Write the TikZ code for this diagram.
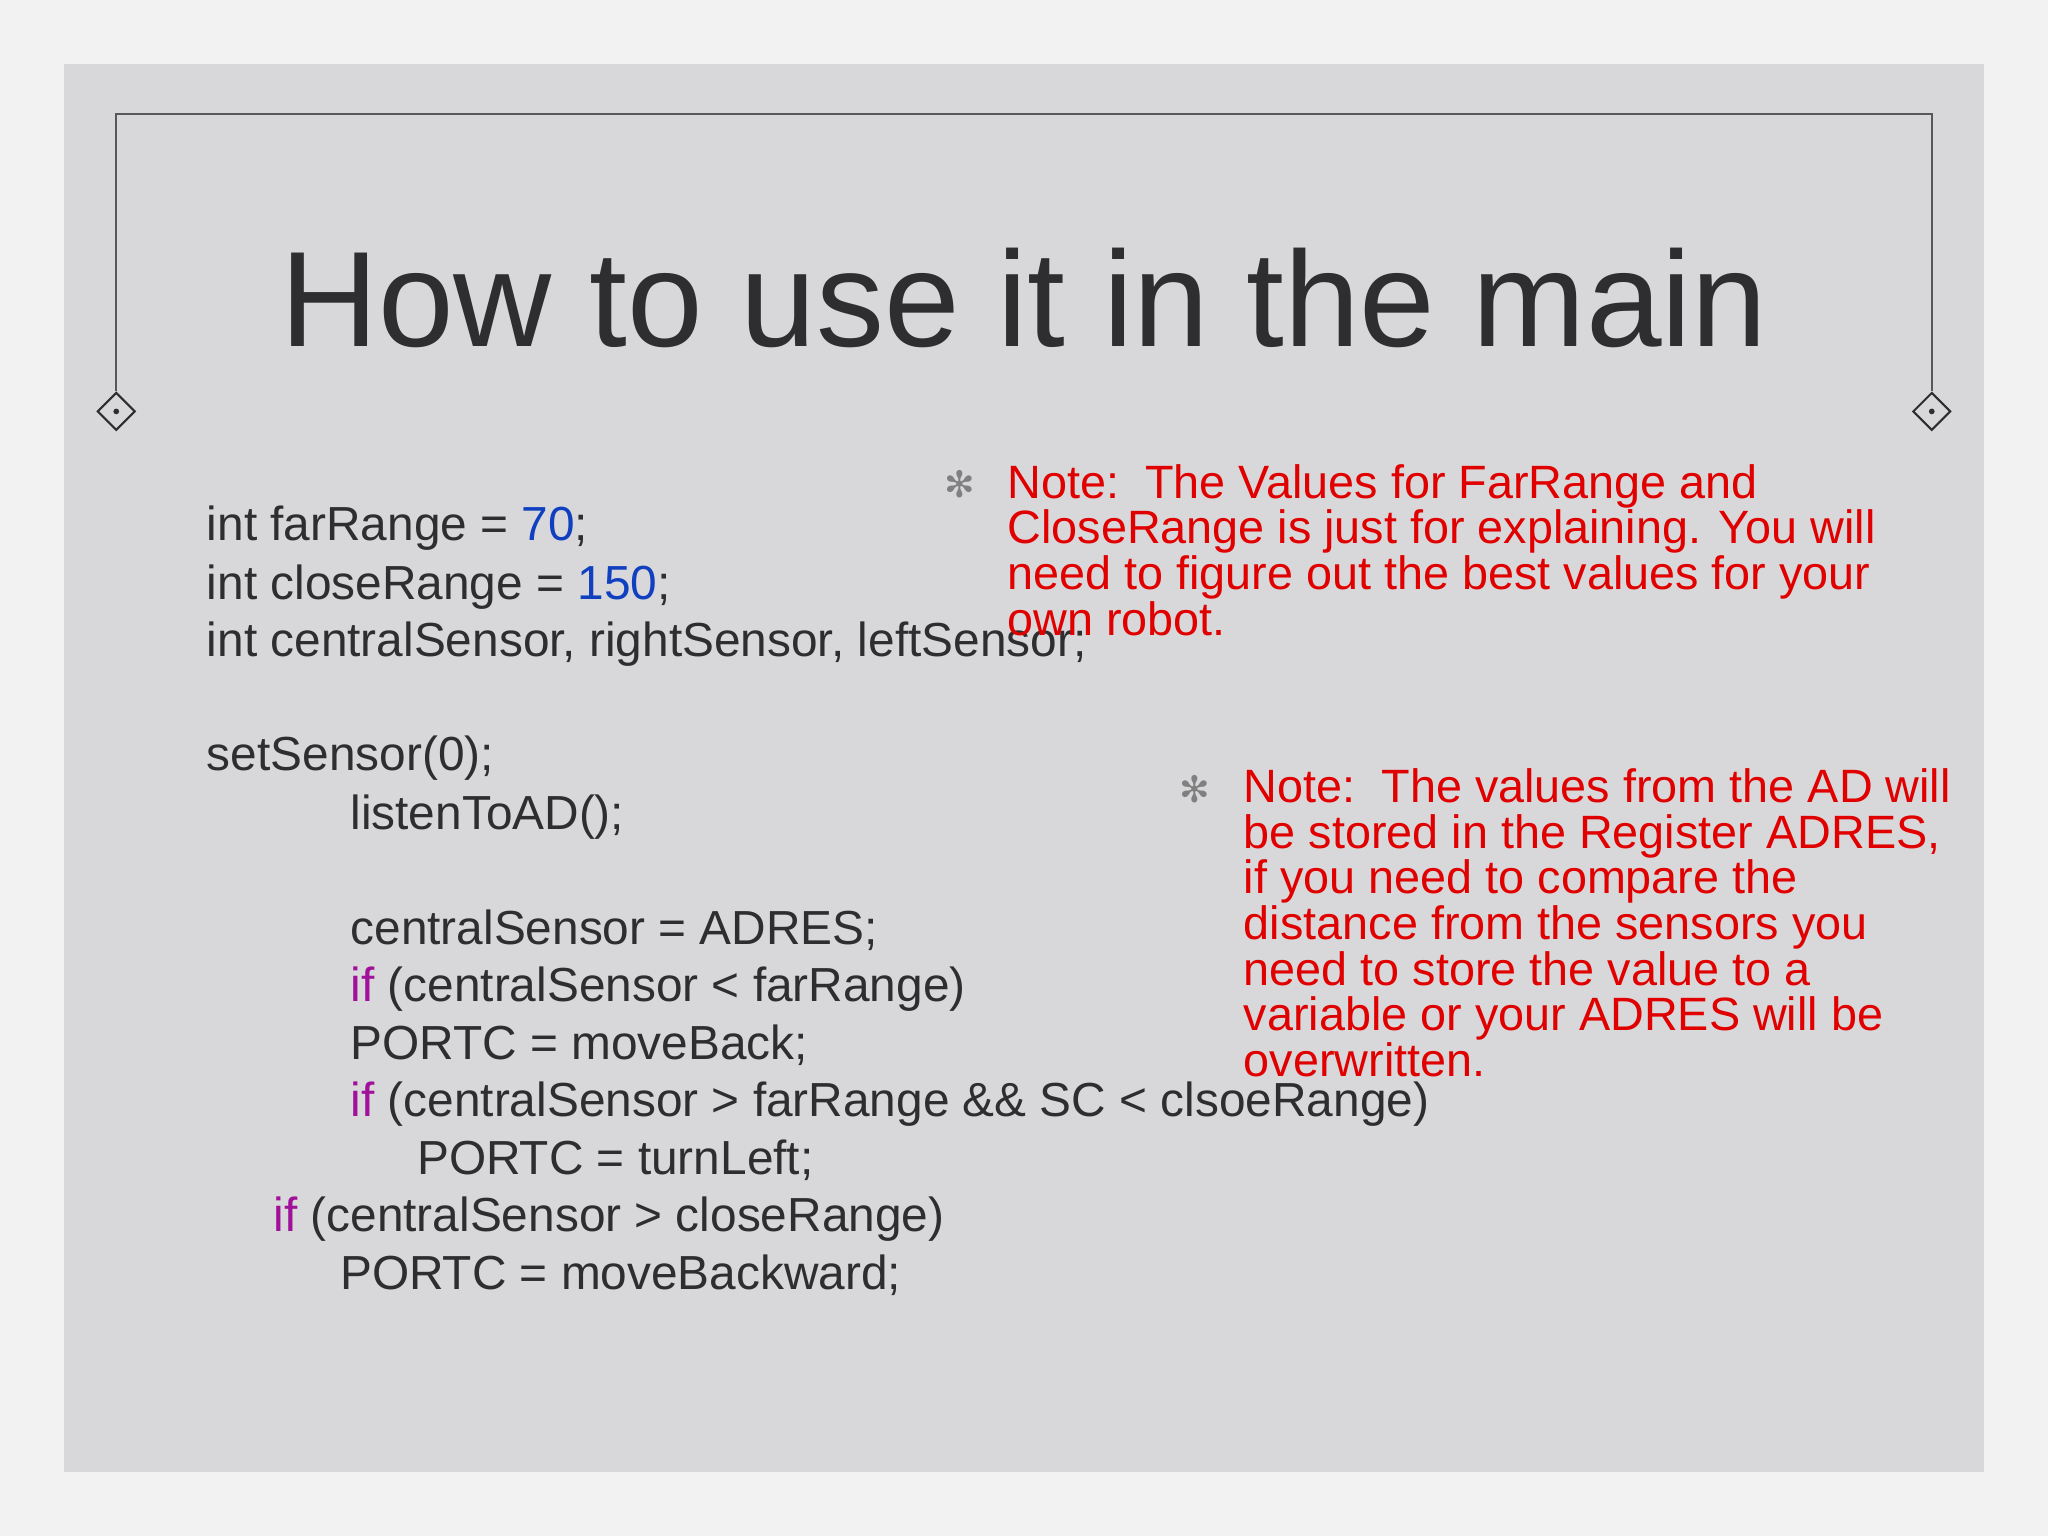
\documentclass[tikz,border=0pt]{standalone}
\usepackage{fontspec}
\setmainfont{Liberation Sans}
\newfontfamily\symfont{DejaVu Sans}
\definecolor{bgout}{HTML}{F2F2F3}
\definecolor{panel}{HTML}{D8D8DA}
\definecolor{txt}{HTML}{2E2E30}
\definecolor{nred}{HTML}{E00000}
\definecolor{nblue}{HTML}{1040C0}
\definecolor{kw}{HTML}{A0109A}
\begin{document}
\begin{tikzpicture}[x=0.5pt,y=-0.5pt,
  code/.style={anchor=base west,inner sep=0,font=\fontsize{18.3}{22}\selectfont,text=txt},
  note/.style={anchor=north west,inner sep=0,font=\fontsize{17.9}{17.5}\selectfont,text=nred,align=left},
  star/.style={inner sep=0,font=\symfont\fontsize{14}{14}\selectfont,text=gray},
  dia/.style={draw=txt,fill=panel,minimum size=10pt,inner sep=0,rotate=45,line width=0.8pt}]
\fill[bgout] (0,0) rectangle (1568,1176);
\useasboundingbox (0,0) rectangle (1568,1176);
\fill[panel] (49,49) rectangle (1519,1127);
\node[dia] (d1) at (89,315) {};
\node[dia] (d2) at (1479,315) {};
\fill[txt] (89,315) circle (2.2);
\fill[txt] (1479,315) circle (2.2);
\draw[txt!80,line width=0.7pt] (d1.north east) -- (89,87) -- (1479,87) -- (d2.north east);
\node[anchor=base,inner sep=0,font=\fontsize{52}{52}\selectfont,text=txt] (title) at (784,265) {How to use it in the main};
\node[code] (l1) at (158,414) {int farRange = \textcolor{nblue}{70};};
\node[code] (l2) at (158,459) {int closeRange = \textcolor{nblue}{150};};
\node[code] (l3) at (158,503) {int centralSensor, rightSensor, leftSensor;};
\node[code] (l4) at (158,590) {setSensor(0);};
\node[code] (l5) at (268,635) {listenToAD();};
\node[code] (l6) at (268,723) {centralSensor = ADRES;};
\node[code] (l7) at (268,767) {\textcolor{kw}{if} (centralSensor < farRange)};
\node[code] (l8) at (268,811) {PORTC = moveBack;};
\node[code] (l9) at (268,855) {\textcolor{kw}{if} (centralSensor > farRange \&\& SC < clsoeRange)};
\node[code] (l10) at (319,899) {PORTC = turnLeft;};
\node[code] (l11) at (209,943) {\textcolor{kw}{if} (centralSensor > closeRange)};
\node[code] (l12) at (260,987) {PORTC = moveBackward;};
\node[star] (s1) at (735,371) {✻};
\node[note] (n1) at (771,355) {Note:\ \ The Values for FarRange and\\CloseRange is just for explaining. You will\\need to figure out the best values for your\\own robot.};
\node[star] (s2) at (915,604) {✻};
\node[note] (n2) at (952,588) {Note:\ \ The values from the AD will\\be stored in the Register ADRES,\\if you need to compare the\\distance from the sensors you\\need to store the value to a\\variable or your ADRES will be\\overwritten.};
\end{tikzpicture}
\end{document}
